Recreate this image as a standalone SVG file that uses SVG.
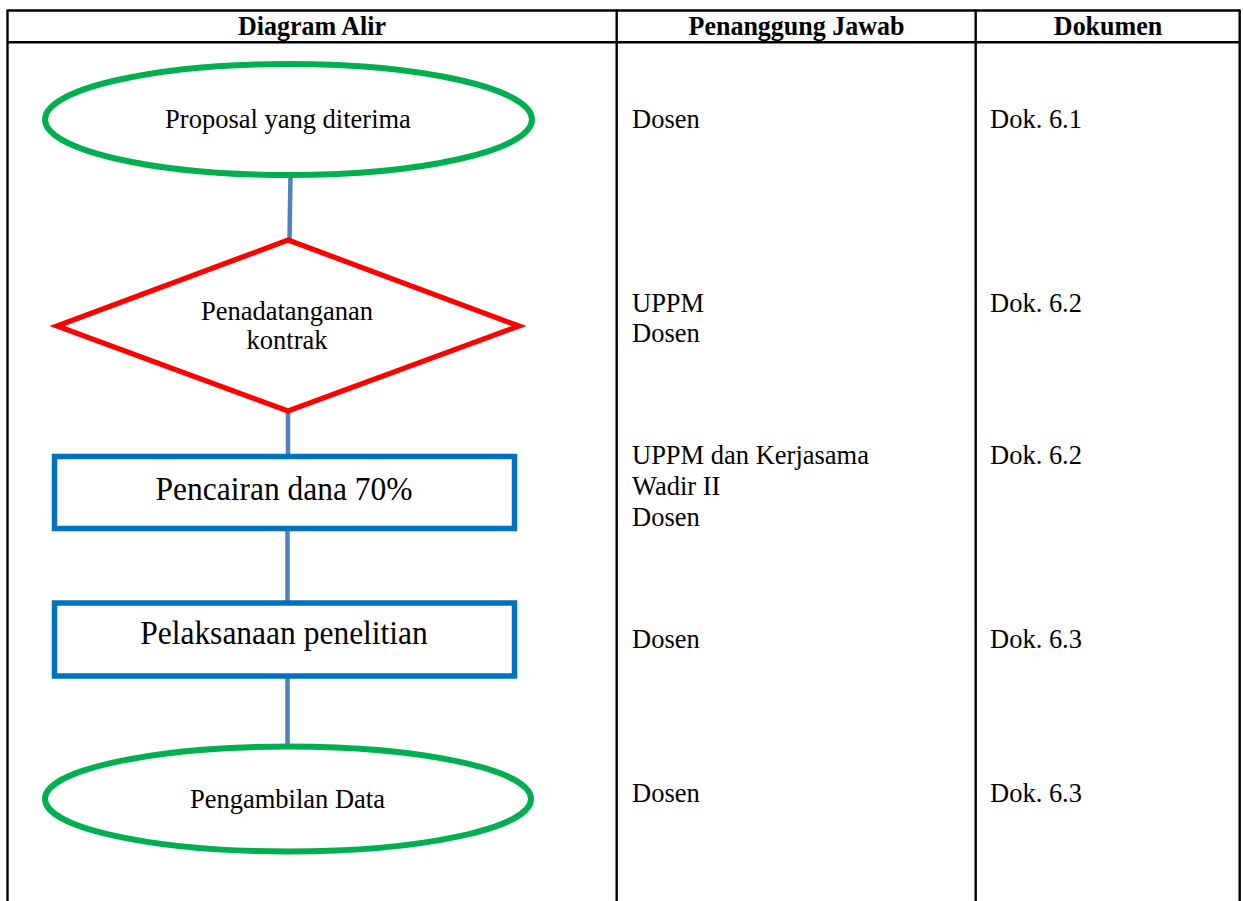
<svg xmlns="http://www.w3.org/2000/svg" width="1243" height="901" viewBox="0 0 1243 901">
<style>
  .grid { stroke:#000; stroke-width:2.4; fill:none; }
  text { font-family:"Liberation Serif","Times New Roman",serif; fill:#000; }
  .hdr { font-weight:bold; font-size:26px; text-anchor:middle; }
  .cell { font-size:26.5px; }
  .lbl { font-size:26.5px; text-anchor:middle; }
  .big { font-size:31.5px; text-anchor:middle; }
  .term { fill:#fff; stroke:#00B050; stroke-width:6; }
  .dec { fill:#fff; stroke:#FF0000; stroke-width:5.2; }
  .proc { fill:#fff; stroke:#0070C0; stroke-width:5.5; }
  .conn { stroke:#4F81BD; stroke-width:4.5; fill:none; }
</style>
<rect x="0" y="0" width="1243" height="901" fill="#fff"/>
<g id="table">
  <line class="grid" x1="7.5" y1="10.5" x2="1240" y2="10.5"/>
  <line class="grid" x1="7.5" y1="42.3" x2="1240" y2="42.3"/>
  <line class="grid" x1="7.5" y1="9.5" x2="7.5" y2="901"/>
  <line class="grid" x1="616.7" y1="9.5" x2="616.7" y2="901"/>
  <line class="grid" x1="975.7" y1="9.5" x2="975.7" y2="901"/>
  <line class="grid" x1="1239.7" y1="9.5" x2="1239.7" y2="901"/>
  <text class="hdr" transform="translate(312,34.5) scale(1,1.07)">Diagram Alir</text>
  <text class="hdr" transform="translate(796.5,34.5) scale(1,1.07)">Penanggung Jawab</text>
  <text class="hdr" transform="translate(1108,34.5) scale(1,1.07)">Dokumen</text>
</g>
<g id="connectors">
  <line class="conn" x1="290.5" y1="173" x2="289.5" y2="240"/>
  <line class="conn" x1="288" y1="411" x2="288" y2="457"/>
  <line class="conn" x1="287.5" y1="529" x2="287.5" y2="603"/>
  <line class="conn" x1="287.5" y1="676" x2="287.5" y2="747"/>
</g>
<g id="node-proposal">
  <ellipse class="term" cx="288.5" cy="119.5" rx="243.5" ry="55.5"/>
  <text class="lbl" transform="translate(288,128) scale(1,1.07)">Proposal yang diterima</text>
</g>
<g id="node-kontrak">
  <polygon class="dec" points="288,240 519,326 288,411 57,326"/>
  <text class="lbl" transform="translate(287,320) scale(1,1.07)">Penadatanganan</text>
  <text class="lbl" transform="translate(287,349) scale(1,1.07)">kontrak</text>
</g>
<g id="node-pencairan">
  <rect class="proc" x="54.5" y="456.5" width="460" height="72"/>
  <text class="big" transform="translate(284,499.5) scale(1,1.07)">Pencairan dana 70%</text>
</g>
<g id="node-pelaksanaan">
  <rect class="proc" x="54.5" y="603" width="460" height="73"/>
  <text class="big" transform="translate(284,644) scale(1,1.07)">Pelaksanaan penelitian</text>
</g>
<g id="node-pengambilan">
  <ellipse class="term" cx="288" cy="799" rx="243" ry="52.5"/>
  <text class="lbl" transform="translate(287.5,808) scale(1,1.07)">Pengambilan Data</text>
</g>
<g id="responsible">
  <text class="cell" transform="translate(632,128.3) scale(1,1.07)">Dosen</text>
  <text class="cell" transform="translate(632,311.7) scale(1,1.07)">UPPM</text>
  <text class="cell" transform="translate(632,341.7) scale(1,1.07)">Dosen</text>
  <text class="cell" transform="translate(632,464.3) scale(1,1.07)">UPPM dan Kerjasama</text>
  <text class="cell" transform="translate(632,495) scale(1,1.07)">Wadir II</text>
  <text class="cell" transform="translate(632,525.5) scale(1,1.07)">Dosen</text>
  <text class="cell" transform="translate(632,648) scale(1,1.07)">Dosen</text>
  <text class="cell" transform="translate(632,802) scale(1,1.07)">Dosen</text>
</g>
<g id="documents">
  <text class="cell" transform="translate(990,128.3) scale(1,1.07)">Dok. 6.1</text>
  <text class="cell" transform="translate(990,311.7) scale(1,1.07)">Dok. 6.2</text>
  <text class="cell" transform="translate(990,464.3) scale(1,1.07)">Dok. 6.2</text>
  <text class="cell" transform="translate(990,648) scale(1,1.07)">Dok. 6.3</text>
  <text class="cell" transform="translate(990,802) scale(1,1.07)">Dok. 6.3</text>
</g>
</svg>
